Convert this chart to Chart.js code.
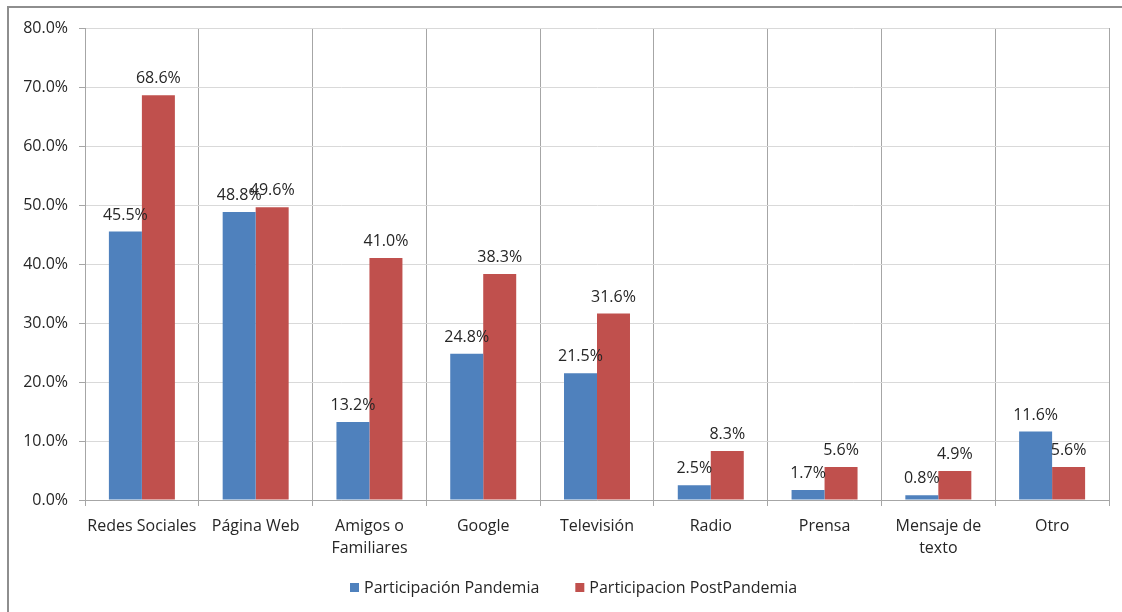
<!DOCTYPE html>
<html>
<head>
<meta charset="utf-8">
<script src="https://cdn.jsdelivr.net/npm/chart.js@4.4.1/dist/chart.umd.min.js"></script>
<style>
  html, body { margin: 0; padding: 0; background: #fff; }
  #wrap { width: 1122px; height: 612px; }
</style>
</head>
<body>
<div id="wrap"><canvas id="mediosChart" width="1122" height="612"></canvas></div>
<script>
const categories = [
    'Redes Sociales', 'Página Web', ['Amigos o', 'Familiares'], 'Google', 'Televisión',
    'Radio', 'Prensa', ['Mensaje de', 'texto'], 'Otro'
];
const pandemia = [45.5, 48.8, 13.2, 24.8, 21.5, 2.5, 1.7, 0.8, 11.6];
const postPandemia = [68.6, 49.6, 41.0, 38.3, 31.6, 8.3, 5.6, 4.9, 5.6];

const FONT = '"Open Sans", Lato, sans-serif';
const SIZE = 16;
const TEXT = '#262626';

// white page with the thin grey frame on top and left
const framePlugin = {
    id: 'frame',
    beforeDraw(chart) {
        const c = chart.ctx;
        c.save();
        c.fillStyle = '#fff';
        c.fillRect(0, 0, chart.width, chart.height);
        c.strokeStyle = '#8e8e8e';
        c.lineWidth = 2;
        c.beginPath();
        c.moveTo(8, chart.height);
        c.lineTo(8, 7);
        c.lineTo(chart.width, 7);
        c.stroke();
        c.restore();
    }
};

// value labels above every bar
const valueLabels = {
    id: 'valueLabels',
    afterDatasetsDraw(chart) {
        const c = chart.ctx;
        c.save();
        c.font = SIZE + 'px ' + FONT;
        c.fillStyle = TEXT;
        c.textAlign = 'center';
        c.textBaseline = 'alphabetic';
        chart.data.datasets.forEach((ds, i) => {
            chart.getDatasetMeta(i).data.forEach((bar, j) => {
                c.fillText(ds.data[j].toFixed(1) + '%', bar.x, bar.y - 12);
            });
        });
        c.restore();
    }
};

// legend row under the axis labels, wider item gap than the built-in one
const bottomLegend = {
    id: 'bottomLegend',
    afterDraw(chart) {
        const c = chart.ctx;
        const box = 9, gap = 5, spacing = 36;
        const cx = 574, cy = 588;
        c.save();
        c.font = SIZE + 'px ' + FONT;
        c.textBaseline = 'middle';
        c.textAlign = 'left';
        const items = chart.data.datasets.map(ds => ({
            text: ds.label,
            color: ds.backgroundColor,
            w: box + gap + c.measureText(ds.label).width
        }));
        const total = items.reduce((s, it) => s + it.w, 0) + spacing * (items.length - 1);
        let x = Math.round(cx - total / 2);
        items.forEach(it => {
            c.fillStyle = it.color;
            c.fillRect(x, cy - 5, box, box);
            c.fillStyle = TEXT;
            c.fillText(it.text, x + box + gap, cy);
            x += it.w + spacing;
        });
        c.restore();
    }
};

const ctx = document.getElementById('mediosChart').getContext('2d');
const mediosChart = new Chart(ctx, {
    type: 'bar',
    data: {
        labels: categories,
        datasets: [
            {
                label: 'Participación Pandemia',
                data: pandemia,
                backgroundColor: '#4F81BD',
                categoryPercentage: 0.58,
                barPercentage: 1
            },
            {
                label: 'Participacion PostPandemia',
                data: postPandemia,
                backgroundColor: '#C0504D',
                categoryPercentage: 0.58,
                barPercentage: 1
            }
        ]
    },
    options: {
        responsive: false,
        animation: false,
        layout: {
            padding: { left: 8, right: 13, top: 28, bottom: 50 }
        },
        plugins: {
            legend: { display: false },
            tooltip: { enabled: false }
        },
        scales: {
            x: {
                grid: {
                    offset: true,
                    color: '#a6a6a6',
                    tickLength: 6
                },
                border: { color: '#a6a6a6' },
                ticks: {
                    color: TEXT,
                    padding: 9,
                    maxRotation: 0,
                    autoSkip: false,
                    font: { family: FONT, size: SIZE, lineHeight: 1.4 }
                },
                afterFit(scale) { scale.height = 62; }
            },
            y: {
                min: 0,
                max: 80,
                grid: {
                    color: '#d9d9d9',
                    tickColor: '#a6a6a6',
                    tickLength: 6
                },
                border: { color: '#a6a6a6' },
                ticks: {
                    stepSize: 10,
                    color: TEXT,
                    padding: 11,
                    font: { family: FONT, size: SIZE },
                    callback: v => v.toFixed(1) + '%'
                },
                afterFit(scale) { scale.width = 77; }
            }
        }
    },
    plugins: [framePlugin, valueLabels, bottomLegend]
});
</script>
</body>
</html>
